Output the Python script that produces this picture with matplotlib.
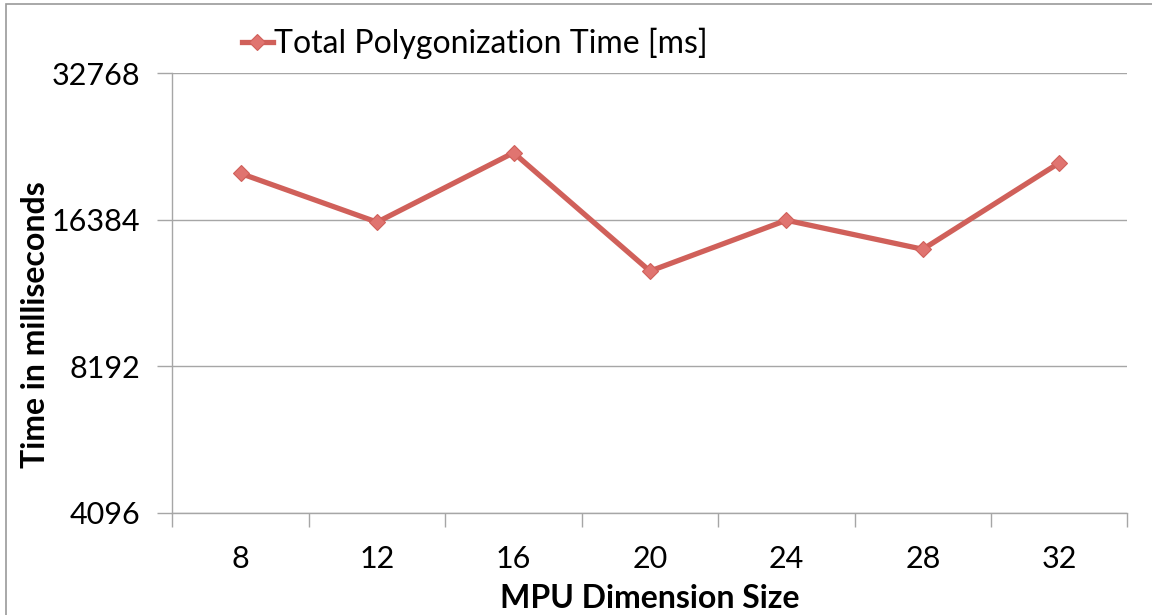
import matplotlib
matplotlib.use("Agg")
import matplotlib.pyplot as plt
from matplotlib.patches import Rectangle

# Data
categories = ["8", "12", "16", "20", "24", "28", "32"]
total_time_ms = [20400, 16200, 22500, 12850, 16350, 14250, 21450]
y_ticks = [4096, 8192, 16384, 32768]
y_tick_labels = ["4096", "8192", "16384", "32768"]
series_label = "Total Polygonization Time [ms]"
x_label = "MPU Dimension Size"
y_label = "Time in milliseconds"

plt.rcParams['font.family'] = ['Lato', 'DejaVu Sans']

fig = plt.figure(figsize=(11.52, 6.15), dpi=100)
ax = fig.add_axes([0.1497, 0.1663, 0.8290, 0.7145])

line_color = "#D0605A"
grid_color = "#A6A6A6"

x = list(range(len(categories)))
ax.plot(x, total_time_ms, color=line_color, lw=3.8, marker="D", ms=8.5,
        markerfacecolor="#E07470", markeredgecolor="#D0605A", markeredgewidth=0.8,
        label=series_label, zorder=3)

ax.set_yscale("log", base=2)
ax.set_ylim(4096, 32768)
ax.set_yticks(y_ticks)
ax.set_yticklabels(y_tick_labels)
ax.yaxis.set_minor_locator(matplotlib.ticker.NullLocator())
ax.set_xlim(-0.5, len(categories) - 0.5)

# category labels at centers, ticks at boundaries
ax.set_xticks(x)
ax.set_xticklabels(categories)
ax.set_xticks([i - 0.5 for i in range(len(categories) + 1)], minor=True)
ax.tick_params(axis="x", which="major", length=0, pad=23, labelsize=22)
ax.tick_params(axis="x", which="minor", length=10, color=grid_color, width=1)
ax.tick_params(axis="y", which="major", length=11, color=grid_color, width=1,
               labelsize=22, pad=12)

ax.grid(axis="y", color=grid_color, lw=1)
ax.set_axisbelow(True)
for s in ["top", "right"]:
    ax.spines[s].set_visible(False)
for s in ["left", "bottom"]:
    ax.spines[s].set_color(grid_color)
    ax.spines[s].set_linewidth(1)

ax.set_xlabel(x_label, fontsize=23, fontweight="bold", labelpad=8)
ax.set_ylabel(y_label, fontsize=23, fontweight="bold")
ax.yaxis.set_label_coords(-0.128, 0.428)

leg = ax.legend(loc="lower left", bbox_to_anchor=(0.058, 1.0), frameon=False,
                fontsize=23, handlelength=0.95, handletextpad=0.05,
                borderaxespad=0.05)

# outer border of chart area
fig.patches.append(Rectangle((6 / 1152, -0.1), 1.2, 1 - 4 / 615 + 0.1,
                             transform=fig.transFigure, fill=False,
                             edgecolor="#9A9A9A", lw=1.2))

fig.savefig("out.png", dpi=100)
